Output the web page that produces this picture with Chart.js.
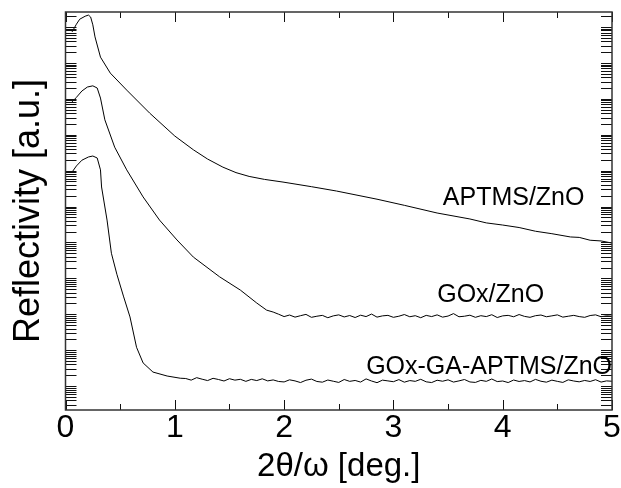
<!DOCTYPE html>
<html>
<head>
<meta charset="utf-8">
<script src="https://cdn.jsdelivr.net/npm/chart.js@4/dist/chart.umd.min.js"></script>
<style>
	body { margin: 0; background: #fff; }
	#wrap { width: 621px; height: 488px; }
</style>
</head>
<body>
<div id="wrap"><canvas id="xrr" width="621" height="488"></canvas></div>
<script>
// APTMS/ZnO (top curve)
var aptmsTheta = [0.06, 0.10, 0.13, 0.18, 0.21, 0.23, 0.25, 0.27, 0.32, 0.41, 0.56, 0.77, 1.00, 1.17, 1.30, 1.44, 1.56, 1.68, 1.82, 1.99, 2.25, 2.48, 2.85, 3.10, 3.40, 3.70, 3.85, 4.00, 4.15, 4.30, 4.45, 4.62, 4.70, 4.80, 4.90, 5.00];
var aptmsR = [7.3e10, 1.2e11, 1.65e11, 2.0e11, 2.15e11, 1.9e11, 1.15e11, 5.3e10, 1.45e10, 5.2e9, 1.75e9, 4.0e8, 9.2e7, 3.8e7, 2.1e7, 1.25e7, 8.8e6, 6.9e6, 5.7e6, 4.8e6, 3.57e6, 2.7e6, 1.6e6, 1.08e6, 6.6e5, 4.5e5, 3.5e5, 3.05e5, 2.6e5, 2.05e5, 1.75e5, 1.42e5, 1.38e5, 1.15e5, 1.1e5, 9.6e4];

// GOx/ZnO (middle curve), slope part
var goxTheta = [0.06, 0.10, 0.15, 0.20, 0.25, 0.29, 0.32, 0.36, 0.45, 0.56, 0.71, 0.86, 1.02, 1.17, 1.41, 1.60, 1.75, 1.84, 1.90, 1.95];
var goxR = [8.2e8, 1.1e9, 1.65e9, 2.13e9, 2.3e9, 2.0e9, 1.05e9, 2.6e8, 4.5e7, 1.05e7, 1.85e6, 4.2e5, 1.17e5, 3.9e4, 1.1e4, 4.7e3, 2.05e3, 1.3e3, 1.15e3, 1.0e3];

// GOx-GA-APTMS/ZnO (bottom curve), slope part
var gaTheta = [0.06, 0.10, 0.15, 0.21, 0.25, 0.29, 0.32, 0.33, 0.38, 0.42, 0.47, 0.53, 0.59, 0.65, 0.71, 0.80, 0.93, 1.05,
	1.10, 1.15, 1.20, 1.25, 1.30, 1.35, 1.40, 1.45, 1.50, 1.55, 1.60, 1.65, 1.70, 1.75, 1.80, 1.85, 1.90, 1.95];
var gaR = [9.1e6, 1.35e7, 1.95e7, 2.4e7, 2.55e7, 2.25e7, 1.05e7, 3.5e6, 4.2e5, 5.0e4, 1.3e4, 3.2e3, 840, 120, 44, 24.5, 19, 16.5,
	16.2, 14.6, 17.1, 15.5, 14.2, 16.4, 15.2, 13.8, 16.0, 14.6, 15.4, 13.5, 15.3, 14.2, 15.9, 13.9, 14.8, 13.4];

// noisy background of both lower curves, 2.00 .. 5.00 deg
var tailTheta = [2.00, 2.05, 2.10, 2.15, 2.20, 2.25, 2.30, 2.35, 2.40, 2.45,
	2.50, 2.55, 2.60, 2.65, 2.70, 2.75, 2.80, 2.85, 2.90, 2.95,
	3.00, 3.05, 3.10, 3.15, 3.20, 3.25, 3.30, 3.35, 3.40, 3.45,
	3.50, 3.55, 3.60, 3.65, 3.70, 3.75, 3.80, 3.85, 3.90, 3.95,
	4.00, 4.05, 4.10, 4.15, 4.20, 4.25, 4.30, 4.35, 4.40, 4.45,
	4.50, 4.55, 4.60, 4.65, 4.70, 4.75, 4.80, 4.85, 4.90, 4.95, 5.00];
var goxTailR = [860, 950, 830, 910, 990, 820, 880, 930, 800, 900,
	960, 840, 920, 810, 940, 860, 1010, 830, 900, 930,
	820, 880, 980, 850, 910, 800, 930, 860, 960, 830,
	890, 1040, 850, 880, 940, 820, 910, 860, 970, 810,
	900, 930, 850, 980, 870, 820, 910, 950, 850, 900,
	960, 830, 880, 930, 860, 820, 920, 960, 850, 900, 880];
var gaTailR = [13.0, 14.9, 13.9, 12.5, 14.5, 15.6, 13.4, 12.8, 14.7, 13.6,
	12.6, 15.2, 13.5, 14.3, 12.9, 15.8, 13.8, 12.4, 14.6, 13.9,
	13.2, 15.1, 12.8, 14.2, 13.5, 15.4, 13.1, 12.5, 14.5, 13.6,
	14.9, 12.9, 13.9, 15.2, 13.0, 12.6, 14.4, 13.5, 15.7, 13.3,
	13.8, 12.5, 14.7, 13.4, 14.2, 13.0, 15.3, 13.6, 12.8, 14.6,
	13.5, 12.6, 14.9, 13.8, 13.1, 14.3, 13.4, 15.0, 12.9, 13.9, 13.6];

// curve labels
var labelText = ['APTMS/ZnO', 'GOx/ZnO', 'GOx-GA-APTMS/ZnO'];
var labelTheta = [4.10, 3.89, 5.00];
var labelR = [1.1e6, 2.2e3, 21.6];

var xMajor = [0, 1, 2, 3, 4, 5];
var xMinor = [0.5, 1.5, 2.5, 3.5, 4.5];

var FONT = "'Liberation Sans', Arial, sans-serif";

function toPoints(xs, ys){
	let pts = [];
	for(let i = 0; i < xs.length; i++){
		pts.push({x: xs[i], y: ys[i]});
	}
	return pts;
}

// ticks pointing inwards on all four sides + frame + curve labels
const frameTicks = {
	id: 'frameTicks',
	afterDatasetsDraw(chart){
		const ctx = chart.ctx;
		const a = chart.chartArea;
		const x = chart.scales.x;
		const y = chart.scales.y;
		ctx.save();
		ctx.strokeStyle = '#111';
		ctx.lineWidth = 1;
		ctx.beginPath();
		for(let v of xMajor){
			let px = Math.round(x.getPixelForValue(v)) + 0.5;
			ctx.moveTo(px, a.bottom); ctx.lineTo(px, a.bottom - 10);
			ctx.moveTo(px, a.top); ctx.lineTo(px, a.top + 10);
		}
		for(let v of xMinor){
			let px = Math.round(x.getPixelForValue(v)) + 0.5;
			ctx.moveTo(px, a.bottom); ctx.lineTo(px, a.bottom - 6);
			ctx.moveTo(px, a.top); ctx.lineTo(px, a.top + 6);
		}
		for(let d = -1; d <= 12; d++){
			for(let m = 1; m <= 9; m++){
				let v = m * Math.pow(10, d);
				if(v < y.min || v > y.max) continue;
				let py = Math.round(y.getPixelForValue(v)) + 0.5;
				ctx.moveTo(a.left, py); ctx.lineTo(a.left + 11, py);
				ctx.moveTo(a.right, py); ctx.lineTo(a.right - 11, py);
			}
		}
		ctx.stroke();

		ctx.strokeStyle = '#333';
		ctx.lineWidth = 1.5;
		ctx.strokeRect(a.left, a.top, a.right - a.left, a.bottom - a.top);

		ctx.fillStyle = '#000';
		ctx.font = '25px ' + FONT;
		ctx.textBaseline = 'alphabetic';
		for(let i = 0; i < labelText.length; i++){
			ctx.textAlign = (i == 2) ? 'right' : 'center';
			ctx.fillText(labelText[i], x.getPixelForValue(labelTheta[i]), y.getPixelForValue(labelR[i]));
		}
		ctx.restore();
	}
};

function lineSet(label, pts){
	return {
		label: label,
		data: pts,
		borderColor: '#000',
		borderWidth: 1,
		pointRadius: 0,
		tension: 0,
		fill: false
	};
}

const config = {
	type: 'line',
	data: {
		datasets: [
			lineSet('APTMS/ZnO', toPoints(aptmsTheta, aptmsR)),
			lineSet('GOx/ZnO', toPoints(goxTheta.concat(tailTheta), goxR.concat(goxTailR))),
			lineSet('GOx-GA-APTMS/ZnO', toPoints(gaTheta.concat(tailTheta), gaR.concat(gaTailR)))
		]
	},
	options: {
		responsive: false,
		animation: false,
		devicePixelRatio: 1,
		layout: {
			padding: {top: 12, right: 9, left: 0, bottom: 0}
		},
		plugins: {
			legend: {display: false},
			tooltip: {enabled: false}
		},
		scales: {
			x: {
				type: 'linear',
				min: 0,
				max: 5,
				grid: {display: false, drawTicks: false},
				border: {display: false},
				ticks: {
					stepSize: 1,
					color: '#000',
					padding: -1,
					font: {size: 32, family: FONT}
				},
				title: {
					display: true,
					text: '2θ/ω [deg.]',
					color: '#000',
					padding: {top: 0, bottom: 1},
					font: {size: 33, family: FONT}
				},
				afterFit: function(s){ s.height = 78; }
			},
			y: {
				type: 'logarithmic',
				min: 2.15,
				max: 2.62e11,
				grid: {display: false, drawTicks: false},
				border: {display: false},
				ticks: {display: false},
				title: {
					display: true,
					text: 'Reflectivity [a.u.]',
					color: '#000',
					padding: {top: 7, bottom: 0},
					font: {size: 36, family: FONT}
				},
				afterFit: function(s){ s.width = 65.5; }
			}
		}
	},
	plugins: [frameTicks]
};

new Chart(document.getElementById('xrr'), config);
</script>
</body>
</html>
